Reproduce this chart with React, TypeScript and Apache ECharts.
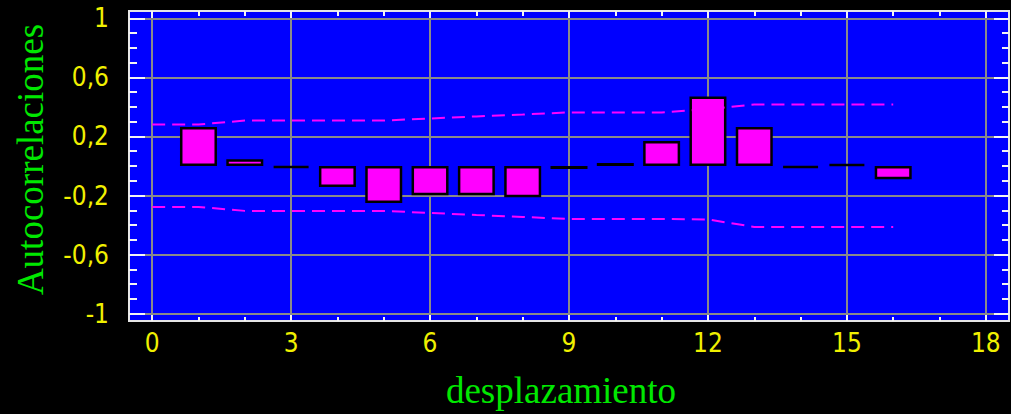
import { useEffect, useRef } from 'react';
import * as echarts from 'echarts';

// Sample autocorrelation function of the series, lags 1..16
const lags = [1, 2, 3, 4, 5, 6, 7, 8, 9, 10, 11, 12, 13, 14, 15, 16];
const autocorrelations = [
  0.265, 0.045, -0.003, -0.142, -0.25, -0.198, -0.198, -0.212,
  -0.02, 0.02, 0.17, 0.47, 0.265, -0.003, 0.002, -0.089,
];

// 95% probability limits, lags 0..16
const limitLags = [0, 1, 2, 3, 4, 5, 6, 7, 8, 9, 10, 11, 12, 13, 14, 15, 16];
const upperLimit = [
  0.281, 0.281, 0.308, 0.308, 0.308, 0.308, 0.322, 0.336, 0.349,
  0.363, 0.363, 0.363, 0.385, 0.417, 0.417, 0.417, 0.417,
];
const lowerLimit = [
  -0.277, -0.277, -0.304, -0.304, -0.304, -0.304, -0.318, -0.332, -0.345,
  -0.359, -0.359, -0.359, -0.362, -0.413, -0.413, -0.413, -0.413,
];

// Tick positions
const xMajorTicks = [0, 3, 6, 9, 12, 15, 18];
const xMinorTicks = [0, 1, 2, 3, 4, 5, 6, 7, 8, 9, 10, 11, 12, 13, 14, 15, 16, 17, 18];
const yMajorTicks = [-1, -0.6, -0.2, 0.2, 0.6, 1];
const yMinorTicks = [
  -1, -0.9, -0.8, -0.7, -0.6, -0.5, -0.4, -0.3, -0.2, -0.1, 0,
  0.1, 0.2, 0.3, 0.4, 0.5, 0.6, 0.7, 0.8, 0.9, 1,
];

const X_MIN = -0.5;
const X_MAX = 18.5;
const Y_MIN = -1.05;
const Y_MAX = 1.05;

const TICK_COLOR = '#f4f4f4';
const LABEL_COLOR = '#f0f000';
const TITLE_COLOR = '#00e800';
const GRID_LINE = '#8a8a8a';
const MAGENTA = '#ff00ff';
const LABEL_FONT = "'Liberation Sans Narrow', 'DejaVu Sans Condensed', 'Liberation Sans', sans-serif";
const TITLE_FONT = "'Liberation Serif', 'Times New Roman', serif";

const decimalComma = (v: number) => String(v).replace('.', ',');

function tickOnlyAxis(position: string, ticks: number[], length: number, min: number, max: number) {
  return {
    type: 'value',
    position,
    min,
    max,
    axisLine: { show: false, onZero: false },
    axisTick: {
      show: true,
      inside: true,
      length,
      customValues: ticks,
      lineStyle: { color: TICK_COLOR, width: 2 },
    },
    axisLabel: { show: false },
    splitLine: { show: false },
  };
}

export default function App() {
  const ref = useRef<HTMLDivElement>(null);

  useEffect(() => {
    if (!ref.current) return;
    const chart = echarts.init(ref.current, null, { renderer: 'svg' });

    const option: any = {
      animation: false,
      backgroundColor: '#000000',
      grid: {
        left: 129,
        right: 2,
        top: 11,
        bottom: 93,
        show: true,
        backgroundColor: '#0000ff',
        borderColor: '#e6e6e6',
        borderWidth: 2,
        outerBoundsMode: 'none',
      },
      xAxis: [
        {
          type: 'value',
          position: 'bottom',
          min: X_MIN,
          max: X_MAX,
          axisLine: { show: false, onZero: false },
          axisTick: {
            show: true,
            inside: true,
            length: 6,
            customValues: xMajorTicks,
            lineStyle: { color: TICK_COLOR, width: 2 },
          },
          axisLabel: {
            customValues: xMajorTicks,
            color: LABEL_COLOR,
            fontFamily: LABEL_FONT,
            fontSize: 26,
            margin: 9,
            formatter: decimalComma,
          },
          splitLine: { show: true, lineStyle: { color: GRID_LINE, width: 2 } },
          name: 'desplazamiento',
          nameLocation: 'middle',
          nameGap: 51,
          nameTextStyle: {
            color: TITLE_COLOR,
            fontFamily: TITLE_FONT,
            fontSize: 37,
            padding: [0, 16, 0, 0],
          },
        },
        tickOnlyAxis('bottom', xMinorTicks, 4, X_MIN, X_MAX),
        tickOnlyAxis('top', xMajorTicks, 7, X_MIN, X_MAX),
        tickOnlyAxis('top', xMinorTicks, 5, X_MIN, X_MAX),
      ],
      yAxis: [
        {
          type: 'value',
          position: 'left',
          min: Y_MIN,
          max: Y_MAX,
          axisLine: { show: false, onZero: false },
          axisTick: {
            show: true,
            inside: true,
            length: 16,
            customValues: yMajorTicks,
            lineStyle: { color: TICK_COLOR, width: 2 },
          },
          axisLabel: {
            customValues: yMajorTicks,
            color: LABEL_COLOR,
            fontFamily: LABEL_FONT,
            fontSize: 26,
            margin: 20,
            padding: [7, 0, 0, 0],
            formatter: decimalComma,
          },
          splitLine: { show: true, lineStyle: { color: GRID_LINE, width: 2 } },
          name: 'Autocorrelaciones',
          nameLocation: 'middle',
          nameRotate: 90,
          nameGap: 80,
          nameTextStyle: {
            color: TITLE_COLOR,
            fontFamily: TITLE_FONT,
            fontSize: 37,
            padding: [0, 0, 0, 13],
          },
        },
        tickOnlyAxis('left', yMinorTicks, 8, Y_MIN, Y_MAX),
        tickOnlyAxis('right', yMajorTicks, 15, Y_MIN, Y_MAX),
        tickOnlyAxis('right', yMinorTicks, 7, Y_MIN, Y_MAX),
      ],
      series: [
        {
          name: 'Límite superior',
          type: 'line',
          xAxisIndex: 0,
          yAxisIndex: 0,
          data: limitLags.map((l, i) => [l, upperLimit[i]]),
          symbol: 'none',
          silent: true,
          lineStyle: { color: MAGENTA, width: 2, type: [13, 7] },
        },
        {
          name: 'Límite inferior',
          type: 'line',
          xAxisIndex: 0,
          yAxisIndex: 0,
          data: limitLags.map((l, i) => [l, lowerLimit[i]]),
          symbol: 'none',
          silent: true,
          lineStyle: { color: MAGENTA, width: 2, type: [13, 7] },
        },
        {
          name: 'Autocorrelaciones',
          type: 'bar',
          xAxisIndex: 0,
          yAxisIndex: 0,
          data: lags.map((l, i) => [l, autocorrelations[i]]),
          barWidth: 37,
          barMinHeight: 2,
          itemStyle: { color: MAGENTA, borderColor: '#000000', borderWidth: 2.5 },
        },
      ],
    };

    chart.setOption(option);
    return () => chart.dispose();
  }, []);

  return (
    <div
      ref={ref}
      style={{ position: 'fixed', left: 0, top: 0, width: 1011, height: 414, background: '#000' }}
    />
  );
}
